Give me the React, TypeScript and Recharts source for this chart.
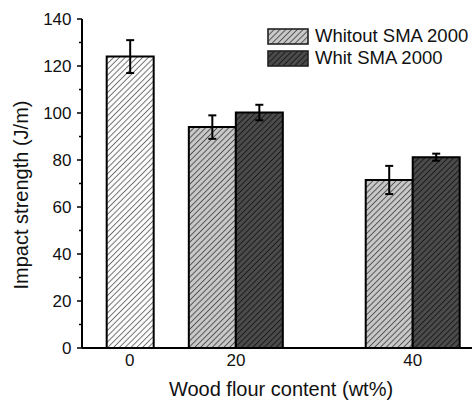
import { BarChart, Bar, XAxis, YAxis, ErrorBar, Legend, Label } from "recharts";

// x positions follow the original category layout (blank slots are gaps)
const slots = ["0", "", "", "20", "", "", "", "", "40"];
const contents = ["0", "20", "40"];

const neatValues = [124, null, null];
const neatErrors = [7, null, null];
const withoutValues = [null, 94, 71.5];
const withoutErrors = [null, 5, 6];
const withValues = [null, 100.2, 81.2];
const withErrors = [null, 3.3, 1.5];

const yTicks = [0, 10, 20, 30, 40, 50, 60, 70, 80, 90, 100, 110, 120, 130, 140];

const SERIES = [
  { key: "without", name: "Whitout SMA 2000", fill: "url(#hatchLight)" },
  { key: "with", name: "Whit SMA 2000", fill: "url(#hatchDark)" },
];

const data = contents.map((c, i) => ({
  x: slots.indexOf(c),
  label: c,
  neat: neatValues[i],
  neatErr: neatErrors[i],
  without: withoutValues[i],
  withoutErr: withoutErrors[i],
  with: withValues[i],
  withErr: withErrors[i],
}));

const FONT = '"Liberation Sans", Arial, Helvetica, sans-serif';
const X_DOMAIN = [-1.35, 9.9];
const HATCH = 4.1;

const YTick = (props: any) => {
  const { x, y, payload } = props;
  const major = payload.value % 20 === 0;
  return (
    <g>
      <line x1={x - (major ? 5 : 3)} x2={x} y1={y} y2={y} stroke="#000" strokeWidth={1.5} />
      {major && (
        <text x={x - 10.5} y={y} dy="0.355em" textAnchor="end" fontSize={17} fill="#111" fontFamily={FONT}>
          {payload.value}
        </text>
      )}
    </g>
  );
};

const YTitle = (props: any) => {
  const vb = props.viewBox;
  const cx = vb.x + 28;
  const cy = vb.y + vb.height / 2 + 11.5;
  return (
    <text
      x={cx}
      y={cy}
      transform={`rotate(-90, ${cx}, ${cy})`}
      textAnchor="middle"
      fontSize={20}
      fill="#111"
      fontFamily={FONT}
    >
      Impact strength (J/m)
    </text>
  );
};

const XTitle = (props: any) => {
  const vb = props.viewBox;
  return (
    <text
      x={vb.x + vb.width / 2}
      y={vb.y + vb.height - 6}
      textAnchor="middle"
      fontSize={20}
      fill="#111"
      fontFamily={FONT}
    >
      Wood flour content (wt%)
    </text>
  );
};

const LegendBox = () => (
  <div style={{ fontFamily: FONT, fontSize: 18.5, color: "#111" }}>
    {SERIES.map((s) => (
      <div key={s.key} style={{ display: "flex", alignItems: "center", height: 22 }}>
        <svg width={42} height={17} style={{ display: "block" }}>
          <rect x={1} y={1} width={40} height={15} fill={s.fill} stroke="#222" strokeWidth={1.6} />
        </svg>
        <span style={{ marginLeft: 6, lineHeight: "22px", whiteSpace: "nowrap" }}>{s.name}</span>
      </div>
    ))}
  </div>
);

const Hatch = ({ id, bg, line }: { id: string; bg: string; line: string }) => (
  <pattern id={id} patternUnits="userSpaceOnUse" width={HATCH} height={HATCH} patternTransform="rotate(45)">
    <rect width={HATCH} height={HATCH} fill={bg} />
    <line x1={HATCH / 2} y1={0} x2={HATCH / 2} y2={HATCH} stroke={line} strokeWidth={1} />
  </pattern>
);

export default function App() {
  return (
    <div
      style={{
        position: "fixed",
        left: 0,
        top: 0,
        width: 472,
        height: 402,
        overflow: "hidden",
        background: "#fff",
      }}
    >
      <BarChart
        width={484}
        height={402}
        data={data}
        margin={{ top: 19, right: 4, bottom: 0, left: 0 }}
        barGap={0}
        style={{ fontFamily: FONT }}
      >
        <defs>
          <Hatch id="hatchWhite" bg="#ffffff" line="#6e6e6e" />
          <Hatch id="hatchLight" bg="#cacaca" line="#505050" />
          <Hatch id="hatchDark" bg="#4c4c4c" line="#1a1a1a" />
        </defs>
        <XAxis
          dataKey="x"
          type="number"
          domain={X_DOMAIN}
          allowDataOverflow
          ticks={data.map((d) => d.x)}
          tickFormatter={(v: number) => slots[v]}
          tickLine={false}
          tickSize={4}
          tick={{ fill: "#111", fontSize: 17, fontFamily: FONT }}
          axisLine={{ stroke: "#000", strokeWidth: 2 }}
          height={54}
        >
          <Label content={<XTitle />} />
        </XAxis>
        <XAxis xAxisId="single" dataKey="x" type="number" domain={X_DOMAIN} allowDataOverflow hide />
        <XAxis
          xAxisId="top"
          orientation="top"
          dataKey="x"
          type="number"
          domain={X_DOMAIN}
          allowDataOverflow
          tick={false}
          tickLine={false}
          height={0}
          axisLine={{ stroke: "#000", strokeWidth: 2 }}
        />
        <YAxis
          domain={[0, 140]}
          ticks={yTicks}
          interval={0}
          width={82}
          tickLine={false}
          tickSize={0}
          tickMargin={0}
          tick={<YTick />}
          axisLine={{ stroke: "#000", strokeWidth: 2 }}
        >
          <Label content={<YTitle />} />
        </YAxis>
        <Legend
          layout="vertical"
          align="center"
          verticalAlign="middle"
          wrapperStyle={{ top: 25, left: 267, width: "auto" }}
          content={<LegendBox />}
        />
        <Bar
          xAxisId="single"
          dataKey="neat"
          name="Neat"
          barSize={47}
          fill="url(#hatchWhite)"
          stroke="#000"
          strokeWidth={2}
          isAnimationActive={false}
          legendType="none"
        >
          <ErrorBar dataKey="neatErr" width={4} stroke="#000" strokeWidth={2} />
        </Bar>
        {SERIES.map((s) => (
          <Bar
            key={s.key}
            dataKey={s.key}
            name={s.name}
            barSize={47}
            fill={s.fill}
            stroke="#000"
            strokeWidth={2}
            isAnimationActive={false}
          >
            <ErrorBar dataKey={`${s.key}Err`} width={4} stroke="#000" strokeWidth={2} />
          </Bar>
        ))}
      </BarChart>
    </div>
  );
}
